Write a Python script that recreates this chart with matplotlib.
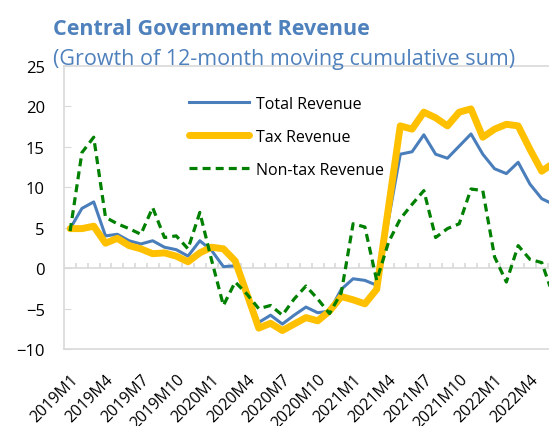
import numpy as np
import matplotlib
matplotlib.use('Agg')
import matplotlib.pyplot as plt

plt.rcParams['font.family'] = ['Open Sans', 'DejaVu Sans']

#--monthly labels 2019M1 .. 2022M6
months = [f'{y}M{m}' for y in range(2019, 2023) for m in range(1, 13)][:42]

#--values (percent)
total_rev = [4.9, 7.4, 8.2, 4.0, 4.2, 3.4, 3.0, 3.4, 2.6, 2.3, 1.5, 3.4,
             2.2, 0.2, 0.3, -3.0, -6.7, -5.8, -6.9, -5.8, -4.8, -5.5, -5.3, -2.6,
             -1.3, -1.5, -2.1, 6.0, 14.1, 14.4, 16.5, 14.1, 13.6, 15.1, 16.6, 14.1,
             12.3, 11.7, 13.1, 10.4, 8.6, 7.9]
tax_rev = [4.9, 4.9, 5.2, 3.1, 3.7, 2.8, 2.4, 1.8, 1.9, 1.5, 0.8, 1.9,
           2.6, 2.4, 0.9, -3.2, -7.4, -6.8, -7.7, -6.9, -6.1, -6.5, -5.3, -3.5,
           -3.9, -4.4, -2.6, 7.5, 17.6, 17.2, 19.3, 18.6, 17.6, 19.3, 19.7, 16.2,
           17.2, 17.8, 17.6, 14.7, 12.0, 13.0]
nontax_rev = [4.6, 14.3, 16.2, 6.3, 5.5, 4.9, 4.2, 7.5, 3.8, 4.0, 2.4, 6.9,
              1.0, -4.6, -1.7, -3.2, -5.0, -4.6, -5.8, -3.8, -2.2, -3.8, -5.6, -3.0,
              5.5, 5.1, -1.5, 3.2, 6.1, 7.9, 9.6, 3.8, 4.9, 5.5, 9.8, 9.6,
              1.4, -1.7, 2.8, 1.1, 0.7, -3.5]

title_col = '#4F81BD'
grid_col = '#D9D9D9'

x = np.arange(len(months))

fig = plt.figure(figsize=(5.49, 4.27), dpi=100)
# plot area runs past the right edge, like the cropped original
ax = fig.add_axes([0.117, 0.18, 0.902, 0.663])

ax.plot(x, total_rev, color='#4A7EBB', lw=2.2, solid_joinstyle='round', label='Total Revenue', zorder=3)
ax.plot(x, tax_rev, color='#FFC000', lw=5, solid_joinstyle='round', solid_capstyle='round', label='Tax Revenue', zorder=4)
ax.plot(x, nontax_rev, color='#008000', lw=2.3, dashes=(2.5, 1.6), label='Non-tax Revenue', zorder=5)

#--zero line with small month ticks on it
ax.axhline(0, color=grid_col, lw=1.2, zorder=1)
ax.vlines(np.arange(-0.5, len(months)), 0, 0.7, color=grid_col, lw=1.2, zorder=1)

ax.set_xlim(-0.5, len(months) - 0.5)
ax.set_ylim(-10, 25)
ax.set_yticks(range(-10, 30, 5))
ax.set_xticks(x[::3])
ax.set_xticklabels(months[::3], rotation=45, ha='right', rotation_mode='anchor')

for s in ['top', 'bottom', 'left', 'right']:
    ax.spines[s].set_color(grid_col)
    ax.spines[s].set_linewidth(1.2)

ax.tick_params(axis='y', direction='in', length=5, color=grid_col, pad=14, labelsize=12)
ax.tick_params(axis='x', length=0, pad=15.5, labelsize=11.5)

leg = ax.legend(loc='upper left', bbox_to_anchor=(0.222, 0.945), frameon=False,
                fontsize=11.5, handlelength=3.8, handletextpad=0.4, labelspacing=1.05)

fig.text(0.097, 0.918, 'Central Government Revenue', color=title_col, fontsize=15.5,
         fontweight='bold', va='baseline')
fig.text(0.097, 0.848, '(Growth of 12-month moving cumulative sum)', color=title_col,
         fontsize=15.5, va='baseline')

fig.savefig('out.png', dpi=100)
